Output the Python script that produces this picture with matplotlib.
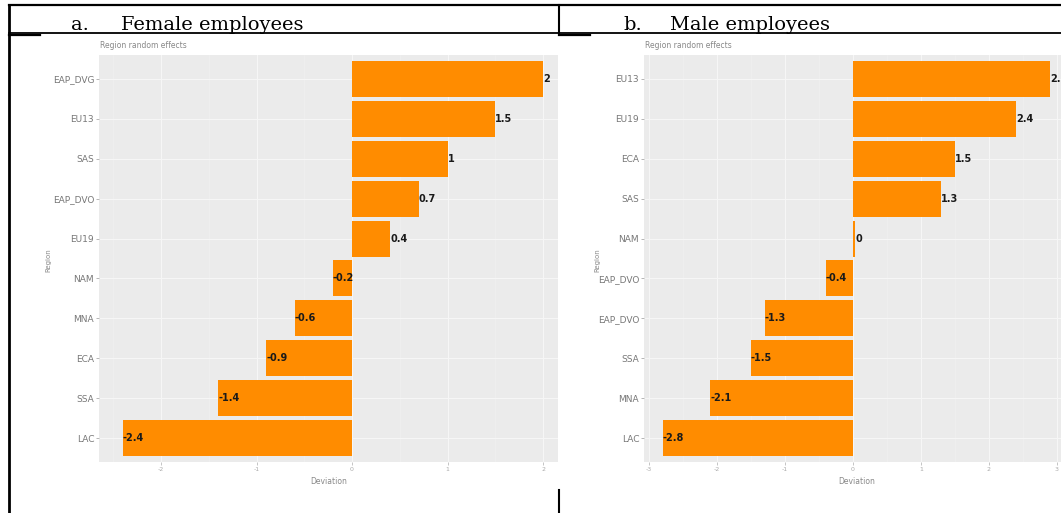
import matplotlib.pyplot as plt
from matplotlib.lines import Line2D
from matplotlib.ticker import MultipleLocator
import numpy as np

# figure size in pixels, all layout below is given in pixels of the page
W, H = 1061, 513

# a. Female employees
female_regions = ['EAP_DVG', 'EU13', 'SAS', 'EAP_DVO', 'EU19', 'NAM', 'MNA', 'ECA', 'SSA', 'LAC']
female_values = [2.0, 1.5, 1.0, 0.7, 0.4, -0.2, -0.6, -0.9, -1.4, -2.4]

# b. Male employees
male_regions = ['EU13', 'EU19', 'ECA', 'SAS', 'NAM', 'EAP_DVO', 'EAP_DVO', 'SSA', 'MNA', 'LAC']
male_values = [2.9, 2.4, 1.5, 1.3, 0.03, -0.4, -1.3, -1.5, -2.1, -2.8]

female_ticks = [-2, -1, 0, 1, 2]
male_ticks = [-3, -2, -1, 0, 1, 2, 3]

fig = plt.figure(figsize=(W / 100, H / 100), dpi=100, facecolor='white')


def fx(px):
    return px / W


def fy(py):
    return 1 - py / H


def hline(y, x0, x1, lw=1.5):
    fig.add_artist(Line2D([fx(x0), fx(x1)], [fy(y), fy(y)], color='black', lw=lw))


def vline(x, y0, y1, lw=1.5):
    fig.add_artist(Line2D([fx(x), fx(x)], [fy(y0), fy(y1)], color='black', lw=lw))


def draw_panel(box, regions, values, xlim, ticks, label_x):
    """ggplot-like horizontal bar chart of the random effects"""
    left, top, right, bottom = box
    ax = fig.add_axes([fx(left), fy(bottom), fx(right - left), (bottom - top) / H])
    ax.set_facecolor('#EBEBEB')
    pos = np.arange(len(regions))
    ax.barh(pos, values, height=0.9, color='#FF8C00', zorder=3)
    for p, v in zip(pos, values):
        ax.text(v, p, f'{round(v, 1):g}', ha='left', va='center', fontsize=7,
                fontweight='bold', color='#1a1a1a', zorder=4)

    ax.set_xlim(*xlim)
    ax.set_ylim(len(regions) - 0.4, -0.6)
    ax.set_xticks(ticks)
    ax.set_xticklabels([str(t) for t in ticks])
    ax.xaxis.set_minor_locator(MultipleLocator(0.5))
    ax.set_yticks(pos)
    ax.set_yticklabels(regions)

    # the source screenshot is blurred, so the white grid is only faint
    ax.grid(which='major', color='#F6F6F6', lw=0.8, zorder=0)
    ax.grid(which='minor', axis='x', color='#F1F1F1', lw=0.4, zorder=0)
    ax.set_axisbelow(True)
    for s in ax.spines.values():
        s.set_visible(False)
    ax.tick_params(axis='y', length=2.5, width=0.6, color='#AAAAAA', labelsize=6.5,
                   labelcolor='#777777', pad=1)
    ax.tick_params(axis='x', which='major', length=2.5, width=0.6, color='#BBBBBB',
                   labelsize=4.5, labelcolor='#AAAAAA', pad=1)
    ax.tick_params(axis='x', which='minor', length=0)

    # ggplot title / axis titles
    fig.text(fx(left + 1), fy(45), 'Region random effects', fontsize=5.5, color='#888888',
             ha='left', va='center')
    fig.text(fx(label_x), fy(260), 'Region', fontsize=5, color='#888888', rotation=90,
             ha='center', va='center')
    fig.text(fx((left + right) / 2), fy(482), 'Deviation', fontsize=5.5, color='#888888',
             ha='center', va='center')
    return ax


# panel a: zero at x=352 px, 95.5 px per unit
draw_panel((99, 55, 558, 462), female_regions, female_values,
           ((99 - 352) / 95.5, (558 - 352) / 95.5), female_ticks, 48)
# panel b: zero at x=853 px, 68 px per unit, panel runs off the page
draw_panel((644, 55, 1069, 462), male_regions, male_values,
           ((644 - 853) / 68, (1069 - 853) / 68), male_ticks, 597)

# table frame
hline(5, 9, W, lw=1.6)
hline(33, 9, W, lw=1.3)
hline(35, 9, 40, lw=1.6)
hline(35, 559, 590, lw=1.6)
vline(9, 5, H, lw=2)
vline(559, 5, 33, lw=1.5)
vline(559, 490, H, lw=1.5)

# cell titles
title_font = dict(family='DejaVu Serif', fontsize=14, color='black', va='baseline')
fig.text(fx(71), fy(30), 'a.', **title_font)
fig.text(fx(121), fy(30), 'Female employees', **title_font)
fig.text(fx(623), fy(30), 'b.', **title_font)
fig.text(fx(670), fy(30), 'Male employees', **title_font)

fig.savefig('out.png', dpi=100, facecolor='white')
